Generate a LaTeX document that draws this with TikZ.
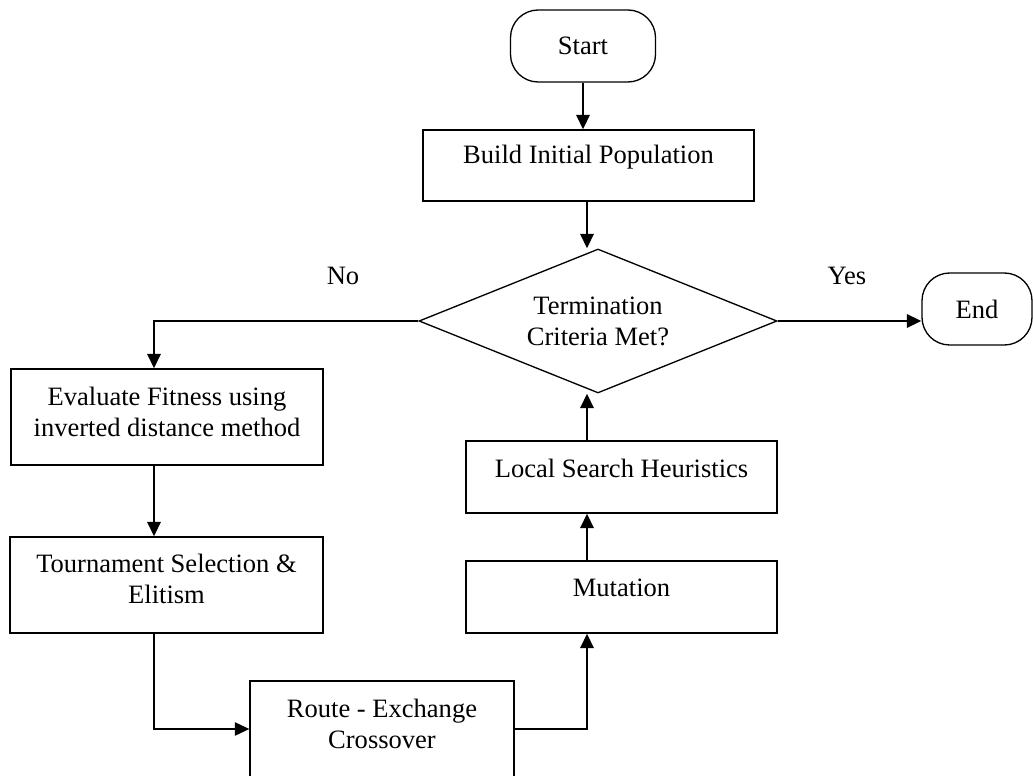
\documentclass[tikz,border=0pt]{standalone}
\usepackage{fontspec}
\setmainfont{Liberation Serif}
\usepackage{tikz}
\usetikzlibrary{positioning, shapes, arrows.meta}

% one pixel of the layout
\newcommand{\pxu}{0.0159cm}

\tikzset{
  boxsize/.style 2 args={minimum width=#1*\pxu, minimum height=#2*\pxu},
  proc/.style={draw, rectangle, line width=0.6pt, inner sep=0pt, align=center},
  term/.style={draw, rectangle, rounded corners=12.5pt, line width=0.6pt, inner sep=0pt, align=center},
  cond/.style={draw, diamond, aspect=2.5, line width=0.6pt, inner sep=0pt, align=center,
    minimum width=358*\pxu, minimum height=144*\pxu},
  link/.style={->, line width=0.9pt}
}

\begin{document}
\begin{tikzpicture}[x=\pxu, y=-\pxu, font=\fontsize{12}{14}\selectfont,
    >={Triangle[length=6.5pt, width=6pt]}]
  \useasboundingbox (0,0) rectangle (1033,776);

  % Main column
  \node[term, boxsize={145}{72}] (start) at (583,46) {Start};
  \node[proc, boxsize={331}{71}, text depth=9.8pt] (build) at (588.5,165.5) {Build Initial Population};
  \node[cond] (check) at (598,321) {Termination\\Criteria Met?};
  \node[term, boxsize={110}{72}] (finish) at (977,309) {End};

  % Left branch
  \node[proc, boxsize={312}{96}, text depth=4.5pt] (evaluate) at (167,417) {Evaluate Fitness using\\inverted distance method};
  \node[proc, boxsize={313}{96}, text depth=5.4pt] (select) at (166.5,585) {Tournament Selection \&\\Elitism};
  \node[proc, boxsize={264}{96}, text depth=4.5pt] (cross) at (382,729) {Route - Exchange\\Crossover};

  % Right branch
  \node[proc, boxsize={311}{72}, text depth=8.2pt] (mutate) at (621.5,597) {Mutation};
  \node[proc, boxsize={311}{72}, text depth=8.2pt] (search) at (621.5,477) {Local Search Heuristics};

  % Labels
  \node (no) at (343,276) {No};
  \node (yes) at (847,276) {Yes};

  % Connectors
  \coordinate (spine) at (587,0);
  \coordinate (rail) at (154,0);
  \draw[link] (start.south) -- (start.south |- build.north);
  \draw[link] (build.south -| spine) -- (check.north -| spine);
  \draw[link] (check.west) -| (evaluate.north -| rail);
  \draw[link] (check.east) -- (check.east -| finish.west);
  \draw[link] (evaluate.south -| rail) -- (select.north -| rail);
  \draw[link, line width=0.6pt] (select.south -| rail) |- (cross.west);
  \draw[link] (cross.east) -| (mutate.south -| spine);
  \draw[link] (mutate.north -| spine) -- (search.south -| spine);
  \draw[link] (search.north -| spine) -- (check.south -| spine);
\end{tikzpicture}
\end{document}
